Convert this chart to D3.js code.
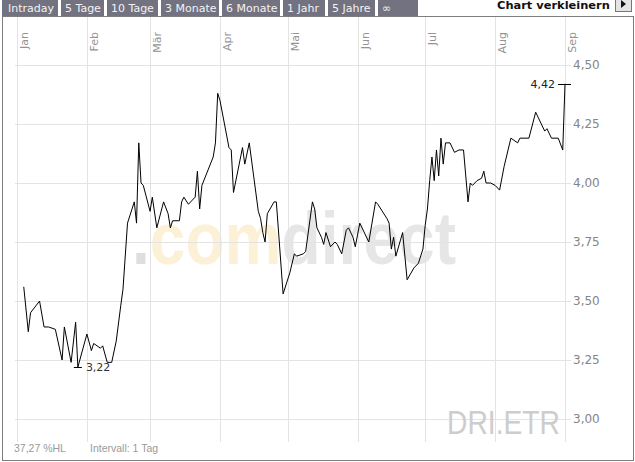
<!DOCTYPE html>
<html><head><meta charset="utf-8">
<script src="https://cdn.jsdelivr.net/npm/d3@7"></script>
<style>body{margin:0;background:#fff}svg{display:block}</style>
</head><body><svg id="c" width="635" height="462"></svg>
<script>
// ---------- data ----------
const dates = [
"2010-01-04","2010-01-06","2010-01-07","2010-01-11","2010-01-13","2010-01-15","2010-01-18","2010-01-21","2010-01-22","2010-01-25","2010-01-27","2010-01-28",
"2010-02-01","2010-02-03","2010-02-04","2010-02-07","2010-02-08","2010-02-10","2010-02-12","2010-02-14","2010-02-16","2010-02-17","2010-02-19","2010-02-22","2010-02-23","2010-02-24","2010-02-25","2010-02-26",
"2010-03-01","2010-03-02","2010-03-04","2010-03-07","2010-03-09","2010-03-10","2010-03-11","2010-03-14","2010-03-15","2010-03-16","2010-03-18","2010-03-21","2010-03-22","2010-03-23","2010-03-24","2010-03-29","2010-03-30","2010-03-31",
"2010-04-01","2010-04-05","2010-04-06","2010-04-07","2010-04-11","2010-04-12","2010-04-14","2010-04-18","2010-04-19","2010-04-20","2010-04-21","2010-04-22","2010-04-25","2010-04-26","2010-04-29",
"2010-05-02","2010-05-04","2010-05-05","2010-05-08","2010-05-09","2010-05-12","2010-05-13","2010-05-14","2010-05-16","2010-05-17","2010-05-18","2010-05-20","2010-05-22","2010-05-23","2010-05-25","2010-05-27","2010-05-28","2010-05-30","2010-05-31",
"2010-06-02","2010-06-06","2010-06-09","2010-06-10","2010-06-14","2010-06-15","2010-06-16","2010-06-17","2010-06-18","2010-06-21","2010-06-23","2010-06-26","2010-06-28","2010-06-30",
"2010-07-01","2010-07-02","2010-07-03","2010-07-04","2010-07-05","2010-07-06","2010-07-07","2010-07-08","2010-07-09","2010-07-10","2010-07-12","2010-07-14","2010-07-16","2010-07-18","2010-07-20","2010-07-21","2010-07-22","2010-07-24","2010-07-26","2010-07-27","2010-07-28","2010-07-30",
"2010-08-01","2010-08-03","2010-08-05","2010-08-08","2010-08-11","2010-08-12","2010-08-16","2010-08-19","2010-08-23","2010-08-24","2010-08-26","2010-08-28","2010-08-29","2010-08-31",
"2010-09-01"
];
const closes = [
3.56,3.37,3.45,3.50,3.39,3.39,3.38,3.25,3.39,3.24,3.41,3.22,
3.36,3.29,3.32,3.30,3.31,3.24,3.24,3.33,3.48,3.55,3.83,3.92,3.83,4.17,4.00,3.99,
3.88,3.94,3.81,3.92,3.87,3.81,3.84,3.84,3.92,3.94,3.91,3.94,4.05,3.89,3.99,4.11,4.17,4.38,
4.35,4.15,4.14,3.96,4.15,4.08,4.17,3.88,3.85,3.79,3.75,3.87,3.92,3.92,3.53,
3.62,3.70,3.69,3.70,3.71,3.92,3.89,3.81,3.77,3.74,3.79,3.73,3.75,3.74,3.70,3.80,3.81,3.77,3.73,
3.83,3.75,3.92,3.91,3.85,3.83,3.72,3.77,3.69,3.79,3.59,3.64,3.66,3.72,
3.82,3.89,4.01,4.11,4.01,4.14,4.03,4.19,4.08,4.17,4.17,4.13,4.14,4.14,3.92,4.00,3.99,4.01,4.02,4.05,4.00,4.00,
3.99,3.97,4.07,4.19,4.17,4.19,4.19,4.30,4.22,4.23,4.19,4.19,4.19,4.14,
4.42
];
const monthLabels = ["Jan","Feb","Mär","Apr","Mai","Jun","Jul","Aug","Sep"];
const monthDates = ["2010-01-01","2010-02-01","2010-03-01","2010-04-01","2010-05-01","2010-06-01","2010-07-01","2010-08-01","2010-09-01"];
const yTicks = [3.00,3.25,3.50,3.75,4.00,4.25,4.50];
const tabLabels = ["Intraday","5 Tage","10 Tage","3 Monate","6 Monate","1 Jahr","5 Jahre","∞"];
const symbolLabel = "DRI.ETR";
const rangeLabel = "37,27 %HL";
const intervalLabel = "Intervall: 1 Tag";
const shrinkLabel = "Chart verkleinern";

// ---------- drawing ----------
const parse = d3.timeParse("%Y-%m-%d");
const data = dates.map((d,i)=>({date:parse(d), v:closes[i]}));
const fmt = v => d3.format(".2f")(v).replace(".", ",");
const svg = d3.select("#c");
const FONT = "DejaVu Sans, Verdana, sans-serif";

const x = d3.scaleTime().domain([parse("2010-01-01"), parse("2010-09-01")]).range([17, 565]);
const y = d3.scaleLinear().domain([3, 4.5]).range([419, 65]);
const plotTop = 17, plotBottom = 442, gridLeft = 15, gridRight = 571;

svg.append("rect").attr("width",635).attr("height",462).attr("fill","#fff");

// fit a text horizontally to a given width by scaling
function fitText(sel, x0, y0, w){
  const n = sel.node().getComputedTextLength();
  sel.attr("transform",`translate(${x0},${y0}) scale(${w/n},1)`);
}

// watermark
const wm = svg.append("text")
  .attr("font-family","Liberation Sans, Arial, sans-serif").attr("font-weight","bold")
  .attr("font-size",74);
wm.append("tspan").attr("fill","#dedede").text(".");
wm.append("tspan").attr("fill","#fcf1d6").text("com");
wm.append("tspan").attr("fill","#e6e6e6").text("direct");
fitText(wm,132,264,324);

// vertical month gridlines
svg.append("g").selectAll("line").data(monthDates).join("line")
  .attr("x1",d=>Math.round(x(parse(d)))+0.5).attr("x2",d=>Math.round(x(parse(d)))+0.5)
  .attr("y1",plotTop).attr("y2",plotBottom).attr("stroke","#e3e3e3");

// y axis with gridlines
const yAxis = svg.append("g").attr("transform",`translate(${gridRight},0)`)
  .call(d3.axisRight(y).tickValues(yTicks).tickFormat(fmt).tickSize(-(gridRight-gridLeft)).tickPadding(2));
yAxis.select(".domain").remove();
yAxis.selectAll(".tick line").attr("stroke","#e3e3e3");
yAxis.selectAll(".tick").attr("transform",d=>`translate(0,${Math.round(y(d))+0.5})`);
yAxis.selectAll("text").attr("fill","#858585").attr("font-family",FONT).attr("font-size",12);

// month labels
svg.append("g").selectAll("text").data(monthDates).join("text")
  .attr("transform",d=>`translate(${Math.round(x(parse(d)))+10.5},32) rotate(-90)`)
  .attr("text-anchor","end").attr("fill","#939393").attr("font-family",FONT).attr("font-size",11)
  .text((d,i)=>monthLabels[i]);

// symbol watermark
const sym = svg.append("text").attr("font-family","Liberation Sans, Arial, sans-serif")
  .attr("font-size",33).attr("fill","#cdcdcd").text(symbolLabel);
fitText(sym,447,434,113);

// price line
svg.append("path").datum(data).attr("fill","none").attr("stroke","#000").attr("stroke-width",1)
  .attr("d", d3.line().x(d=>x(d.date)).y(d=>y(d.v)));

// min / max markers
const minD = data[d3.minIndex(data,d=>d.v)];
const maxD = data[d3.maxIndex(data,d=>d.v)];
const mnx = x(minD.date), mny = Math.round(y(minD.v))+0.5;
svg.append("line").attr("x1",mnx-4).attr("x2",mnx+4).attr("y1",mny).attr("y2",mny).attr("stroke","#000");
svg.append("text").attr("x",mnx+8).attr("y",mny).attr("dy","0.35em").attr("fill","#333")
  .attr("font-family",FONT).attr("font-size",11).text(fmt(minD.v));
const mxx = x(maxD.date), mxy = Math.round(y(maxD.v))+0.5;
svg.append("line").attr("x1",mxx-7).attr("x2",mxx+6).attr("y1",mxy).attr("y2",mxy).attr("stroke","#000");
svg.append("text").attr("x",mxx-10).attr("y",mxy).attr("dy","0.35em").attr("text-anchor","end").attr("fill","#222")
  .attr("font-family",FONT).attr("font-size",11).text(fmt(maxD.v));

// footer texts
svg.append("text").attr("x",14).attr("y",452).attr("fill","#9a9a9a").attr("font-family","Liberation Sans, Arial, sans-serif")
  .attr("font-size",10.5).text(rangeLabel);
svg.append("text").attr("x",90).attr("y",452).attr("fill","#9a9a9a").attr("font-family","Liberation Sans, Arial, sans-serif")
  .attr("font-size",10.5).text(intervalLabel);

// frame
svg.append("rect").attr("x",2.5).attr("y",16.5).attr("width",631).attr("height",444)
  .attr("fill","none").attr("stroke","#7d7d7d");

// tabs
const tabW = [56,43,51,58,58,42,47,40];
let tx = 2;
const tabs = svg.append("g");
tabLabels.forEach((t,i)=>{
  tabs.append("rect").attr("x",tx).attr("y",0).attr("width",tabW[i]).attr("height",16).attr("fill","#727280");
  tabs.append("text").attr("x",tx+(i===0?6:4)).attr("y",12).attr("fill","#f2f2f2")
    .attr("font-family",FONT).attr("font-size",11).text(t);
  tx += tabW[i] + 3;
});

// shrink control
const shrink = svg.append("text").attr("font-family",FONT).attr("font-weight","bold")
  .attr("font-size",11).attr("fill","#111").text(shrinkLabel);
fitText(shrink,497,9,113);
svg.append("rect").attr("x",615.5).attr("y",-2.5).attr("width",16).attr("height",14)
  .attr("fill","#e4e4e4").attr("stroke","#777");
svg.append("path").attr("d","M621,0 L626,4 L621,8 Z").attr("fill","#111");
</script></body></html>
